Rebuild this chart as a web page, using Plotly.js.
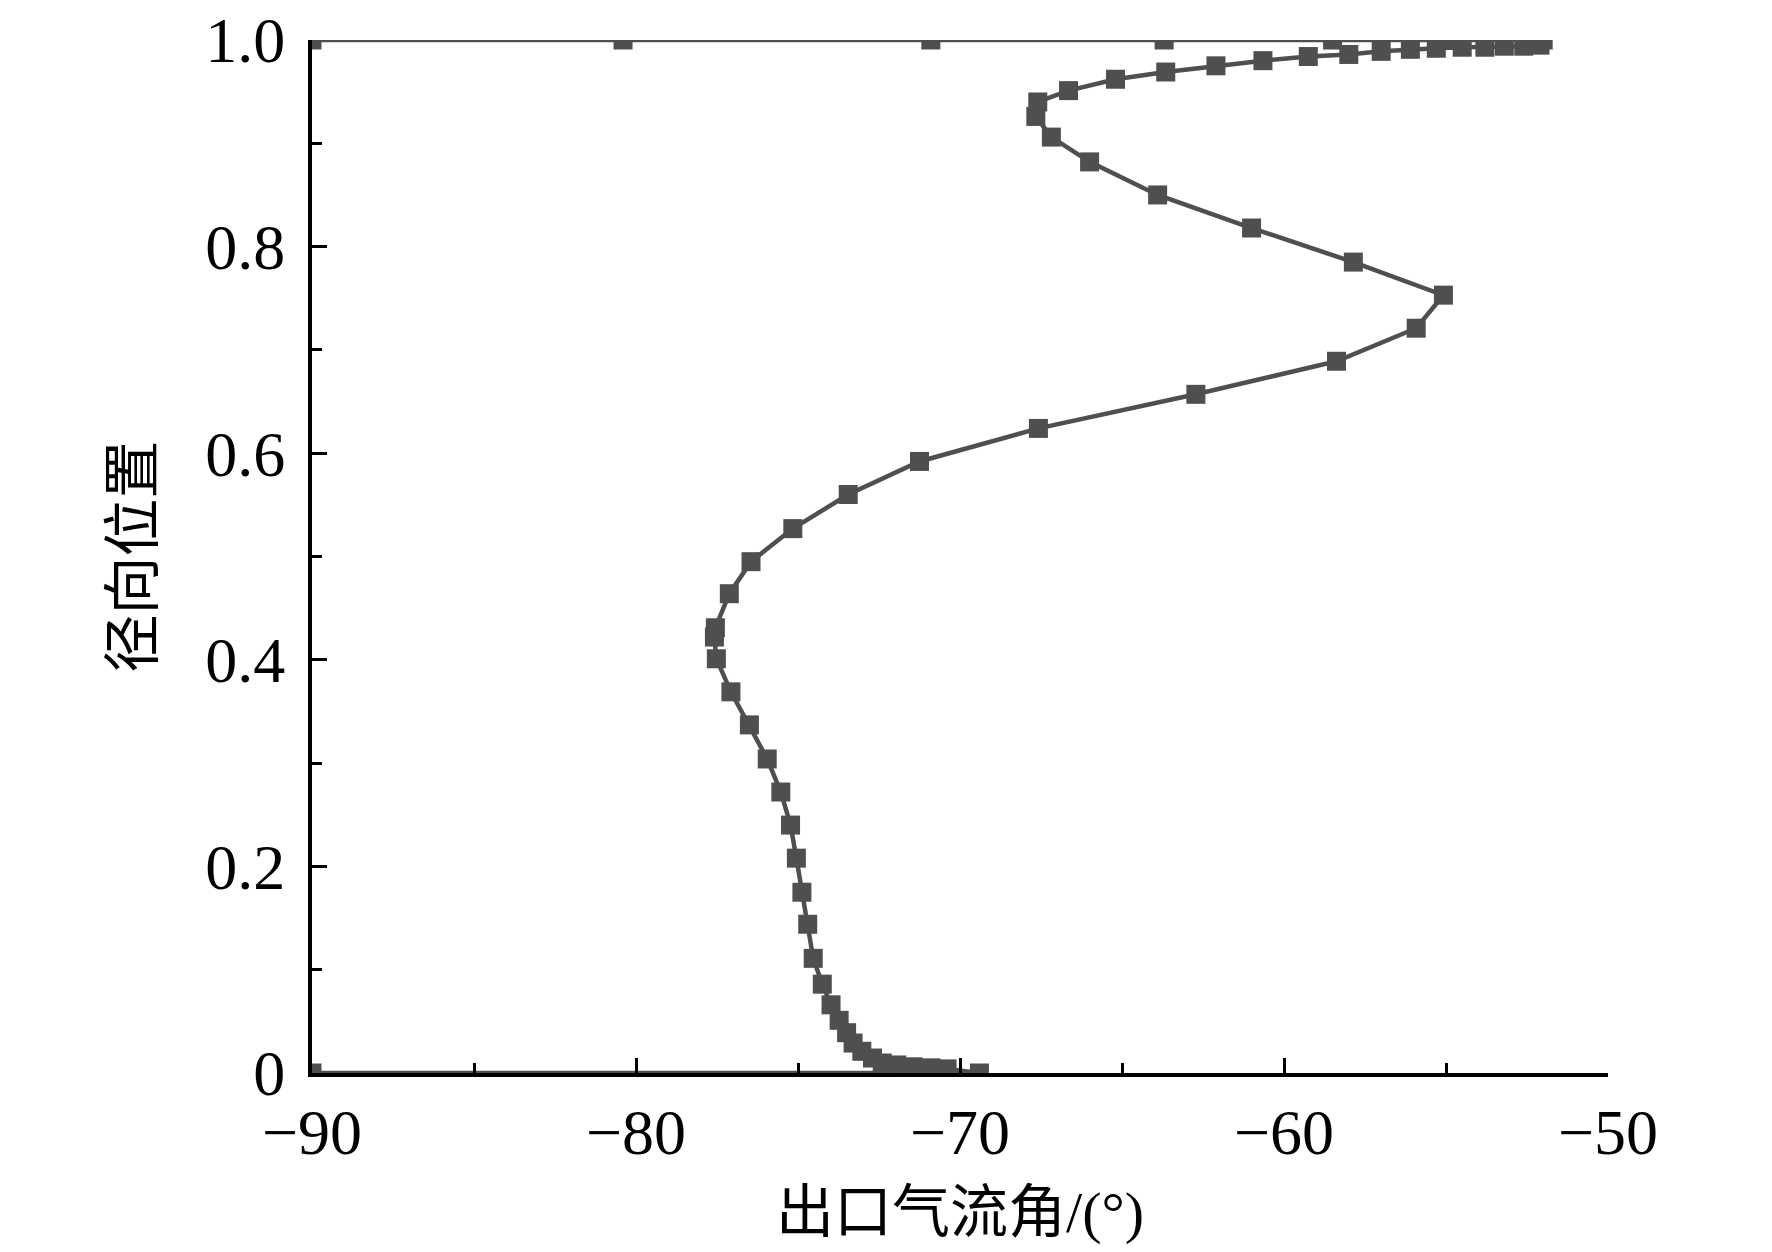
<!DOCTYPE html>
<html>
<head>
<meta charset="utf-8">
<script src="https://cdn.plot.ly/plotly-3.0.1.min.js"></script>
<style>
  body { margin: 0; background: #fff; }
  #plot { width: 1772px; height: 1252px; }
</style>
</head>
<body>
<div id="plot"></div>
<script>
// outlet flow angle (deg) vs radial position, hub -> shroud
const angle = [-90, -69.4, -70.4, -70.9, -71.45, -71.95, -72.4, -72.7, -73.03, -73.3,
  -73.5, -73.73, -73.98, -74.25, -74.53, -74.7, -74.88, -75.05, -75.23, -75.53,
  -75.95, -76.5, -77.07, -77.52, -77.58, -77.55, -77.12, -76.45, -75.16, -73.45,
  -71.25, -67.58, -62.72, -58.38, -55.92, -55.08, -57.86, -61.0, -63.9, -66.0,
  -67.18, -67.66, -67.6, -66.65, -65.2, -63.65, -62.1, -60.65, -59.25, -58.0,
  -57.0, -56.1, -55.3, -54.5, -53.8, -53.2, -52.6, -52.1, -52.0, -54.9,
  -58.5, -63.7, -70.9, -80.4, -90];
const radial = [0, 0, 0.004, 0.005, 0.006, 0.0078, 0.0097, 0.0145, 0.021, 0.029,
  0.039, 0.051, 0.066, 0.086, 0.111, 0.144, 0.175, 0.208, 0.240, 0.272,
  0.304, 0.337, 0.369, 0.401, 0.422, 0.431, 0.464, 0.495, 0.527, 0.560,
  0.592, 0.624, 0.657, 0.689, 0.721, 0.753, 0.785, 0.818, 0.850, 0.882,
  0.906, 0.926, 0.940, 0.951, 0.962, 0.969, 0.975, 0.980, 0.984, 0.986,
  0.989, 0.991, 0.992, 0.993, 0.993, 0.994, 0.994, 0.995, 1, 1,
  1, 1, 1, 1, 1];

const xTicks = [-90, -80, -70, -60, -50];
const yTicks = [0, 0.2, 0.4, 0.6, 0.8, 1.0];
const yTickText = ["0", "0.2", "0.4", "0.6", "0.8", "1.0"];

const xTitle = "出口气流角/(°)";
const yTitle = "径向位置";

const font = "Liberation Serif, Times New Roman, Noto Sans CJK SC, serif";

var trace = {
  x: angle,
  y: radial,
  mode: "lines+markers",
  type: "scatter",
  cliponaxis: true,
  line: { color: "#4f4f4f", width: 4.5 },
  marker: { symbol: "square", size: 19, color: "#4f4f4f" },
  showlegend: false
};

var layout = {
  width: 1772,
  height: 1252,
  margin: { l: 312, r: 164, t: 40, b: 179 },
  paper_bgcolor: "#fff",
  plot_bgcolor: "#fff",
  font: { family: font, color: "#000", size: 64 },
  xaxis: {
    range: [-90, -50],
    tickvals: xTicks,
    ticks: "inside",
    ticklen: 15,
    tickwidth: 3,
    tickcolor: "#000",
    showline: true,
    linewidth: 4,
    linecolor: "#000",
    showgrid: false,
    zeroline: false,
    tickfont: { family: font, size: 64 },
    minor: { ticks: "inside", ticklen: 10, tickwidth: 3, dtick: 5, tickcolor: "#000", showgrid: false },
    title: { text: xTitle, font: { family: font, size: 58 }, standoff: 26 },
    automargin: false
  },
  yaxis: {
    range: [0, 1],
    tickvals: yTicks,
    ticktext: yTickText,
    ticks: "inside",
    ticklen: 15,
    tickwidth: 3,
    tickcolor: "#000",
    showline: true,
    linewidth: 4,
    linecolor: "#000",
    showgrid: false,
    zeroline: false,
    tickfont: { family: font, size: 64 },
    ticklabelstandoff: 10,
    minor: { ticks: "inside", ticklen: 10, tickwidth: 3, dtick: 0.1, tickcolor: "#000", showgrid: false },
    title: { text: yTitle, font: { family: font, size: 58 }, standoff: 34 },
    automargin: false
  }
};

Plotly.newPlot("plot", [trace], layout, { staticPlot: true });
</script>
</body>
</html>
